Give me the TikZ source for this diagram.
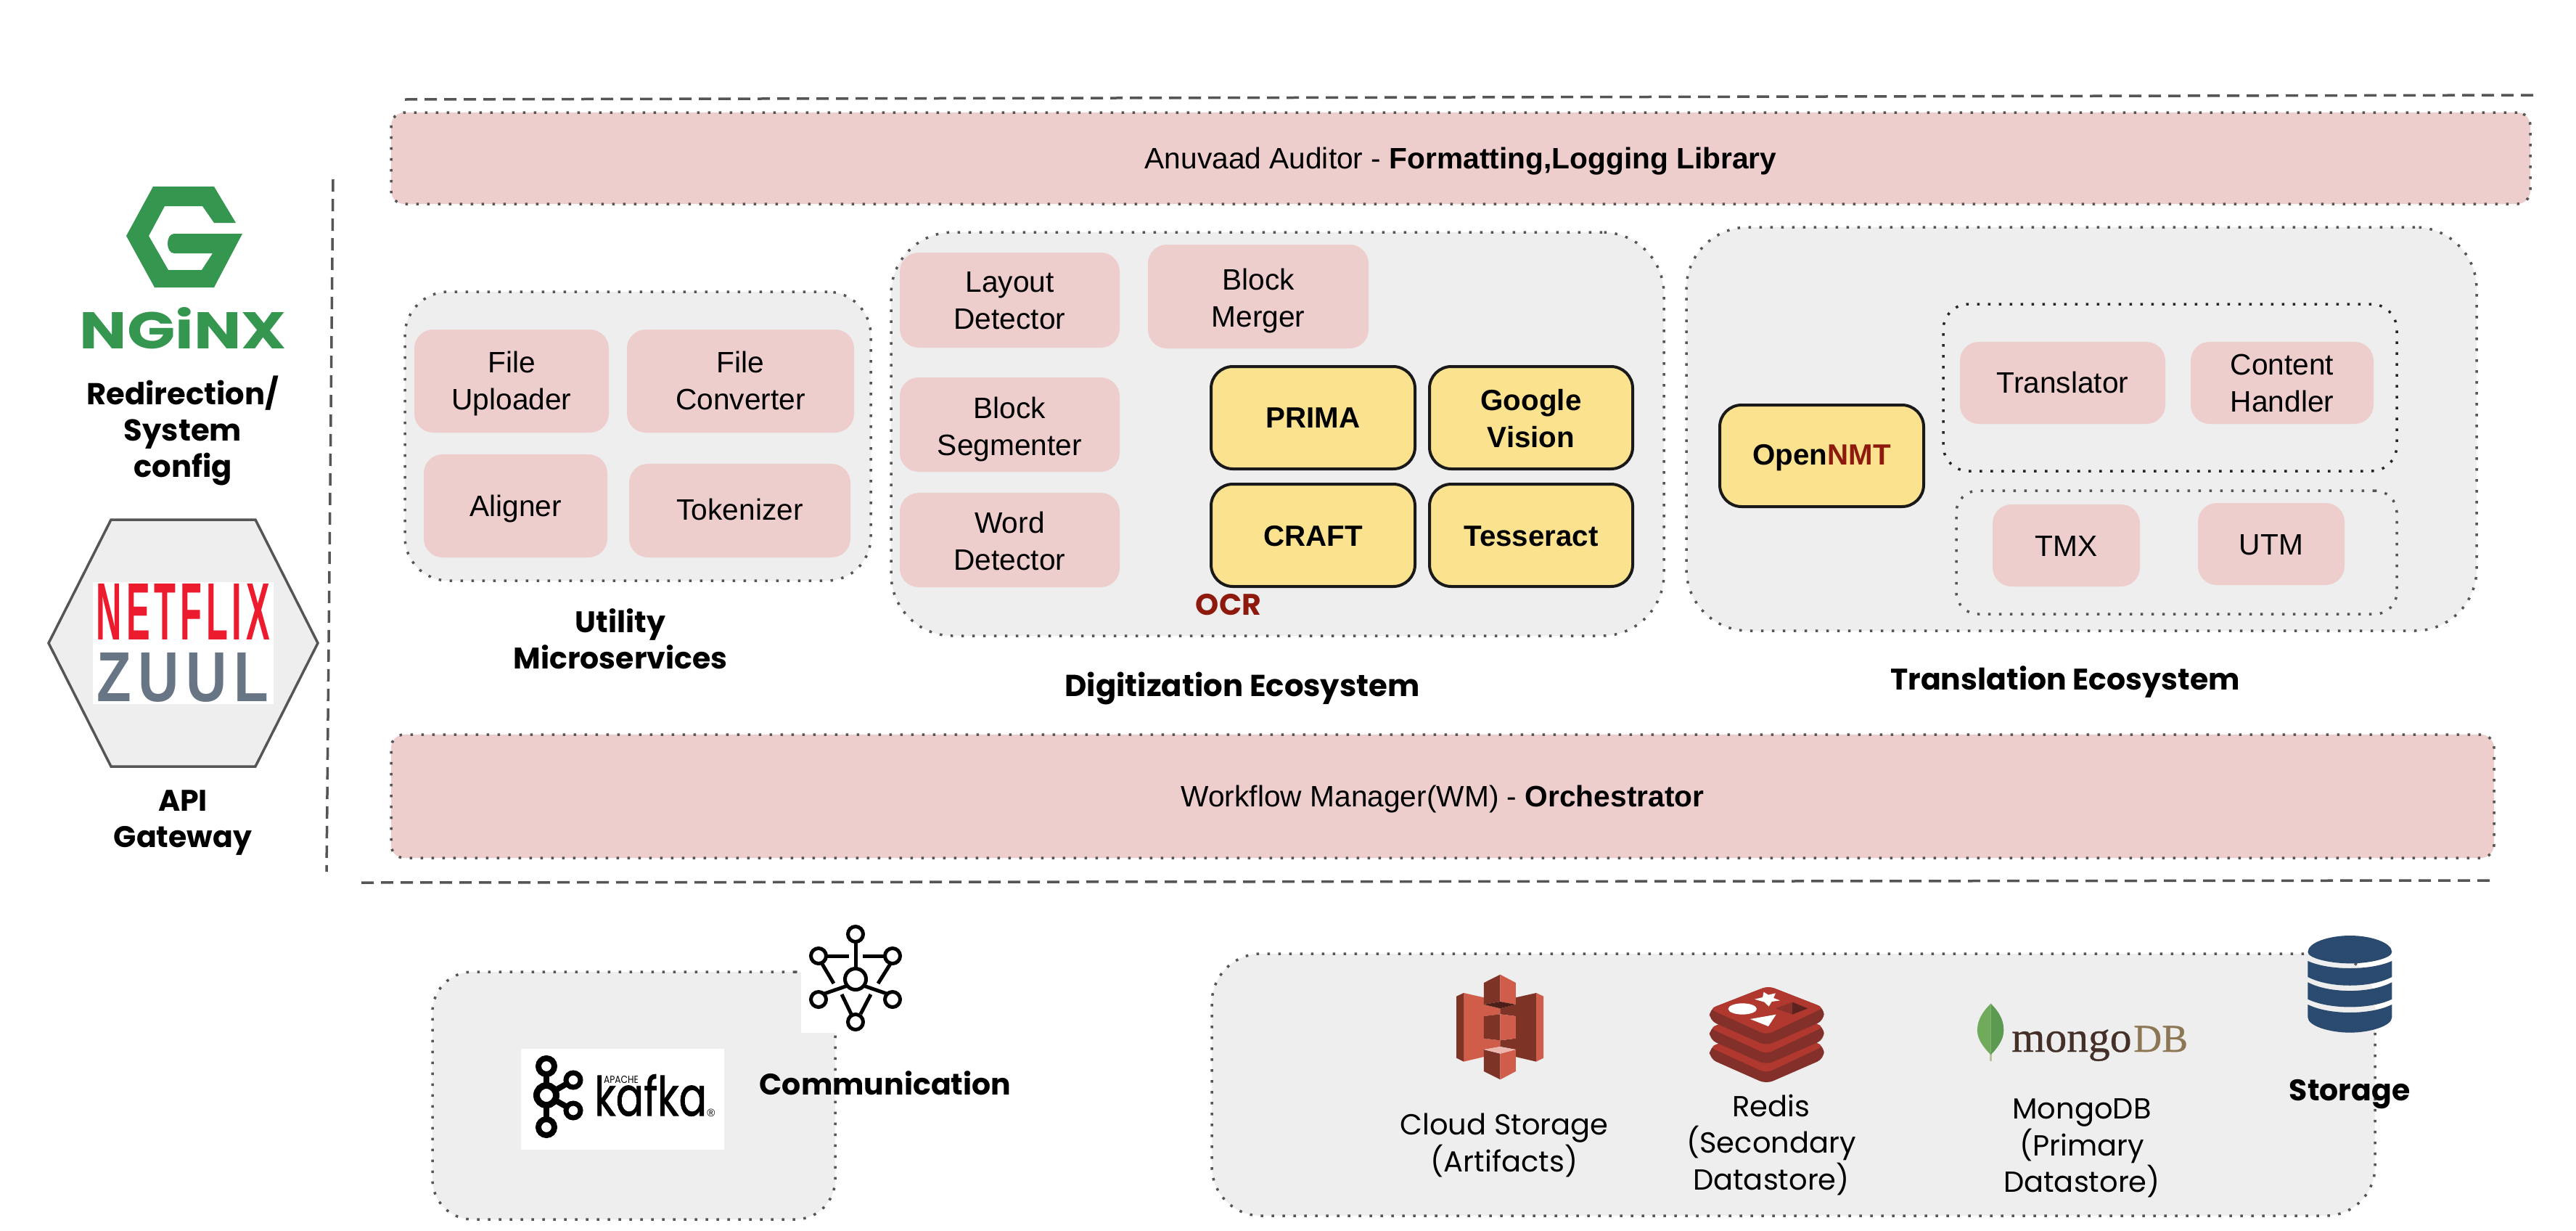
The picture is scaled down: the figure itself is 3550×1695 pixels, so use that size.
\documentclass[tikz,border=0pt]{standalone}
\usepackage{fontspec}
\usepackage{graphicx}
\setmainfont{Liberation Sans}
\newfontfamily\pop{Poppins}
\newfontfamily\kaf[FakeBold=1.2]{Poppins}
\newfontfamily\serifl{Liberation Serif}
\newfontfamily\serifb[FakeBold=0.6]{Liberation Serif}
\newfontfamily\spaced[LetterSpace=12]{Liberation Sans Bold}
\definecolor{pinkf}{HTML}{EECDCD}
\definecolor{grayf}{HTML}{EEEEEE}
\definecolor{yellowf}{HTML}{FAE28F}
\definecolor{dotc}{HTML}{555555}
\definecolor{ocrred}{HTML}{8E1A0E}
\definecolor{ngx}{HTML}{34964F}
\definecolor{sthree}{HTML}{D05C4A}
\definecolor{sthreed}{HTML}{7E3327}
\definecolor{redisl}{HTML}{B0382F}
\definecolor{redisd}{HTML}{83302A}
\definecolor{dbblue}{HTML}{2A4B6F}
\tikzset{
  dotline/.style={draw=dotc,line width=3.5pt,dash pattern=on 3.5pt off 11.5pt},
  dashline/.style={draw=dotc,line width=3.5pt,dash pattern=on 17pt off 10pt},
  eco/.style={dotline,fill=grayf,rounded corners=85pt},
  bar/.style={dotline,fill=pinkf,rounded corners=18pt,font=\fontsize{40.7}{51}\selectfont},
  pinkbox/.style={fill=pinkf,rounded corners=26pt,font=\fontsize{40.7}{51}\selectfont},
  yellowbox/.style={draw=black!90,line width=4pt,fill=yellowf,rounded corners=30pt,font=\fontsize{40.3}{51}\selectfont\bfseries},
  biglabel/.style={align=center,inner sep=0pt,font=\fontsize{41}{50}\selectfont\pop\bfseries},
  thinlabel/.style={align=center,inner sep=0pt,font=\fontsize{40}{50.5}\selectfont\pop},
  ring/.style={draw=black,line width=5pt},
  netline/.style={draw=black,line width=5pt},
  kring/.style={draw=black,line width=8pt}
}
% name, style, x1, y1, x2, y2, downward text shift (px), text
\newcommand\boxn[8]{\node[#2,inner sep=0pt,minimum width={(#5-#3)*1pt},minimum height={(#6-#4)*1pt}] (#1) at ({(#3+#5)/2},{(#4+#6)/2}) {\vbox{\vskip#7pt\vskip#7pt\hbox{\begin{tabular}{@{}c@{}}#8\end{tabular}}}};}
\begin{document}
\begin{tikzpicture}[x=1pt,y=-1pt]
\useasboundingbox[fill=white] (0,0) rectangle (3550,1695);

% separators
\coordinate (tl) at (558,137); \coordinate (tr) at (3493,131);
\coordinate (vt) at (459,247); \coordinate (vb) at (450,1201);
\coordinate (bl) at (498,1216); \coordinate (br) at (3435,1213);
\draw[dashline] (tl) -- (tr);
\draw[dashline] (vt) -- (vb);
\draw[dashline] (bl) -- (br);

% bars
\boxn{auditor}{bar}{539}{155}{3487}{281}{4}{Anuvaad Auditor - \textbf{Formatting,Logging Library}}
\boxn{wm}{bar}{539}{1012}{3437}{1182}{4}{Workflow Manager(WM) - \textbf{Orchestrator}}

% utility
\boxn{util}{eco,rounded corners=60pt}{558}{402}{1200}{800}{0}{}
\boxn{fu}{pinkbox}{571}{454}{839}{596}{4}{File\\Uploader}
\boxn{fc}{pinkbox}{864}{454}{1177}{596}{4}{File\\Converter}
\boxn{al}{pinkbox}{584}{626}{837}{768}{4}{Aligner}
\boxn{to}{pinkbox}{867}{639}{1172}{768}{3}{Tokenizer}
\node[biglabel] (utill) at (855,880) {Utility\\Microservices};

% digitization
\boxn{digi}{eco}{1228}{320}{2293}{876}{0}{}
\boxn{ld}{pinkbox}{1240}{348}{1543}{479}{4}{Layout\\Detector}
\boxn{bm}{pinkbox}{1582}{337}{1886}{480}{6}{Block\\Merger}
\boxn{bs}{pinkbox}{1240}{520}{1543}{650}{7}{Block\\Segmenter}
\boxn{wd}{pinkbox}{1240}{679}{1543}{809}{6}{Word\\Detector}
\boxn{prima}{yellowbox}{1669}{505}{1950}{646}{4}{PRIMA}
\boxn{gv}{yellowbox}{1970}{505}{2250}{646}{5}{Google\\Vision}
\boxn{craft}{yellowbox}{1669}{667}{1950}{808}{5}{CRAFT}
\boxn{tess}{yellowbox}{1970}{667}{2250}{808}{5}{Tesseract}
\node[biglabel,text=ocrred,font=\fontsize{41}{46}\selectfont\pop\bfseries] (ocr) at (1693,833) {OCR};
\node[biglabel,font=\fontsize{41.8}{50}\selectfont\pop\bfseries] (digil) at (1712,948) {Digitization Ecosystem};

% translation
\boxn{trans}{eco}{2324}{313}{3413}{869}{0}{}
\boxn{in1}{dotline,draw=black!85,rounded corners=35pt}{2678}{419}{3303}{649}{0}{}
\boxn{in2}{dotline,rounded corners=30pt}{2696}{676}{3303}{846}{0}{}
\boxn{tr}{pinkbox}{2701}{471}{2984}{584}{4}{Translator}
\boxn{ch}{pinkbox}{3019}{471}{3271}{584}{4}{Content\\Handler}
\boxn{tmx}{pinkbox}{2746}{695}{2949}{808}{5}{TMX}
\boxn{utm}{pinkbox}{3029}{693}{3231}{806}{5}{UTM}
\boxn{onmt}{yellowbox}{2370}{558}{2651}{698}{2}{Open\textcolor{ocrred}{NMT}}
\node[biglabel] (transl) at (2846,939) {Translation Ecosystem};

% nginx
\fill[ngx] (211,257) -- (295,257) -- (325,307) -- (295,307) -- (279,284) -- (227,284) -- (205,325) -- (232,372) -- (278,372) -- (293,349) -- (240,349) .. controls (228,349) and (228,322) .. (240,322) -- (334,322) -- (295,396) -- (213,396) -- (174,325) -- cycle;
\node[inner sep=0pt,text=ngx] (nginx) at (252.5,452) {\resizebox{285pt}{57pt}{\pop\bfseries NGiNX}};
\node[biglabel,font=\fontsize{41.7}{50}\selectfont\pop\bfseries] (nginxl) at (252,593) {Redirection/\\System\\config};

% zuul
\draw[draw=dotc,line width=3.5pt,fill=grayf] (153,716) -- (352,716) -- (438,886) -- (352,1056) -- (153,1056) -- (67,886) -- cycle;
\fill[white] (128,802) rectangle (377,970);
\node[inner sep=0pt,text={rgb,255:red,237;green,27;blue,46}] (netflix) at (252.5,843) {\resizebox{239pt}{77pt}{\spaced NETFLIX}};
\node[inner sep=0pt,text={rgb,255:red,104;green,117;blue,132}] (zuul) at (252,933) {\resizebox{236pt}{67pt}{\spaced ZUUL}};
\node[biglabel] (apil) at (252,1134) {API\\Gateway};

% kafka box
\boxn{kbox}{eco,rounded corners=55pt}{596}{1339}{1151}{1680}{0}{}
\fill[white] (1104,1272) rectangle (1253,1423);
\foreach \x/\y/\r in {1179/1287/10.5,1128/1317/10.5,1230/1317/10.5,1128/1377/10.5,1230/1377/10.5,1179/1408/10.5,1179/1349/14.5}{
  \draw[ring] (\x,\y) circle (\r);
}
\draw[netline] (1179,1298) -- (1179,1335);
\draw[netline] (1139,1317) -- (1170,1317);
\draw[netline] (1189,1317) -- (1220,1317);
\draw[netline] (1133,1328) -- (1149,1355);
\draw[netline] (1227,1328) -- (1210,1355);
\draw[netline] (1136,1369) -- (1168,1358);
\draw[netline] (1222,1369) -- (1190,1358);
\draw[netline] (1160,1370) -- (1173,1397);
\draw[netline] (1200,1370) -- (1186,1397);

\fill[white] (718,1445) rectangle (998,1584);
\draw[kring] (753,1509) -- (753,1553) (753,1509) -- (753,1469);
\draw[kring] (753,1509) -- (790,1488) (753,1509) -- (790,1530);
\foreach \x/\y/\r/\w in {753/1469/11/8,753/1509/13.5/9,790/1488/10/7,790/1530/10/7,753/1553/11/8}{
  \draw[kring,line width=\w pt,fill=white] (\x,\y) circle (\r);
}
\node[inner sep=0pt,anchor=south west] (kafka) at (819,1538) {\resizebox{155pt}{57pt}{\kaf kafka}};
\node[inner sep=0pt] (apache) at (856,1488) {\resizebox{48pt}{10pt}{\pop APACHE}};
\node[inner sep=0pt,font=\fontsize{15}{15}\selectfont] (reg) at (980,1533) {\textregistered};
\node[biglabel] (comml) at (1220,1492) {Communication};

% storage box
\boxn{sbox}{eco,rounded corners=68pt}{1670}{1314}{3273}{1675}{0}{}

% S3
\begin{scope}[shift={(1980,1330)},x=0.357pt,y=-0.3333pt]
\fill[sthree] (104,114) -- (182,133) -- (182,162) -- (245,178) -- (245,202) -- (182,210) -- (182,302) -- (245,310) -- (245,336) -- (182,348) -- (182,378) -- (104,398) -- cycle;
\fill[sthreed] (384,114) -- (305,133) -- (305,162) -- (245,178) -- (245,202) -- (305,210) -- (305,302) -- (245,310) -- (245,336) -- (305,348) -- (305,378) -- (384,398) -- cycle;
\fill[sthree] (384,114) -- (412,128) -- (412,383) -- (384,398) -- cycle;
\fill[sthreed] (76,128) -- (104,114) -- (104,398) -- (76,383) -- cycle;
\fill[sthreed] (182,72) -- (245,38) -- (245,150) -- (182,162) -- cycle;
\fill[sthree] (245,38) -- (305,72) -- (305,162) -- (245,150) -- cycle;
\fill[black!40!sthreed] (182,162) -- (245,150) -- (305,162) -- (245,178) -- cycle;
\fill[sthreed] (182,210) -- (245,202) -- (245,310) -- (182,302) -- cycle;
\fill[sthree] (245,202) -- (305,210) -- (305,302) -- (245,310) -- cycle;
\fill[sthreed] (182,348) -- (245,365) -- (245,472) -- (182,438) -- cycle;
\fill[sthree] (245,365) -- (305,348) -- (305,438) -- (245,472) -- cycle;
\fill[sthree!45!white] (182,348) -- (245,336) -- (305,348) -- (245,365) -- cycle;
\end{scope}

% Redis
\begin{scope}[shift={(1980,1330)},x=0.357pt,y=-0.3333pt]
\foreach \d in {158,79,0}{
  \begin{scope}[yshift={-\d*0.3333pt}]
  \fill[redisd,rounded corners=10pt] (1053,180) -- (1053,228) -- (1272,332) -- (1495,228) -- (1495,175) -- (1280,85) -- cycle;
  \fill[redisl,rounded corners=8pt] (1053,180) -- (1280,85) -- (1495,175) -- (1272,287) -- cycle;
  \end{scope}
}
\fill[white] (1180,180) ellipse [x radius=55,y radius=23];
\fill[white] (1262,110) -- (1280,122) -- (1308,115) -- (1300,135) -- (1325,145) -- (1293,150) -- (1282,170) -- (1265,152) -- (1227,140) -- (1258,132) -- cycle;
\fill[white] (1210,222) -- (1310,203) -- (1280,252) -- cycle;
\fill[redisd!85!redisl] (1308,178) -- (1373,152) -- (1373,203) -- cycle;
\fill[black!30!redisd] (1373,152) -- (1432,178) -- (1373,203) -- cycle;
\end{scope}

% Mongo + DB
\begin{scope}[shift={(2700,1270)},x=0.3954pt,y=-0.3333pt]
\fill[fill={rgb,255:red,184;green,196;blue,160}] (107,540) rectangle (113,575);
\fill[fill={rgb,255:red,111;green,171;blue,90}] (110,338) .. controls (70,385) and (63,420) .. (63,450) .. controls (63,490) and (90,525) .. (110,550) -- cycle;
\fill[fill={rgb,255:red,92;green,154;blue,82}] (110,338) .. controls (150,385) and (155,420) .. (155,450) .. controls (155,490) and (130,525) .. (110,550) -- cycle;
\fill[dbblue] (1215,125) .. controls (1215,85) and (1290,57) .. (1362,57) .. controls (1433,57) and (1508,85) .. (1508,125) .. controls (1508,150) and (1433,172) .. (1362,172) .. controls (1290,172) and (1215,150) .. (1215,125) -- cycle;
\fill[dbblue] (1215,162) .. controls (1290,202) and (1433,202) .. (1508,162) -- (1508,228) .. controls (1433,275) and (1290,275) .. (1215,228) -- cycle;
\fill[dbblue] (1215,250) .. controls (1290,297) and (1433,297) .. (1508,250) -- (1508,320) .. controls (1433,363) and (1290,363) .. (1215,320) -- cycle;
\fill[dbblue] (1215,342) .. controls (1290,386) and (1433,386) .. (1508,342) -- (1508,395) .. controls (1508,430) and (1433,458) .. (1362,458) .. controls (1290,458) and (1215,430) .. (1215,395) -- cycle;
\end{scope}
\node[inner sep=0pt,anchor=base west,text={rgb,255:red,68;green,48;blue,40},font=\fontsize{59.5}{60}\selectfont\serifb] (mongo) at (2772,1449) {mongo};
\node[inner sep=0pt,anchor=base west,text={rgb,255:red,140;green,118;blue,84},font=\fontsize{54}{60}\selectfont\serifb] (db) at (2940,1449) {DB};

\node[thinlabel] (cs) at (2073,1578) {Cloud Storage\\(Artifacts)};
\node[thinlabel] (re) at (2441,1577) {Redis\\(Secondary\\Datastore)};
\node[thinlabel] (mo) at (2869,1582) {MongoDB\\(Primary\\Datastore)};
\node[biglabel] (stl) at (3238,1508) {Storage};
\end{tikzpicture}
\end{document}
